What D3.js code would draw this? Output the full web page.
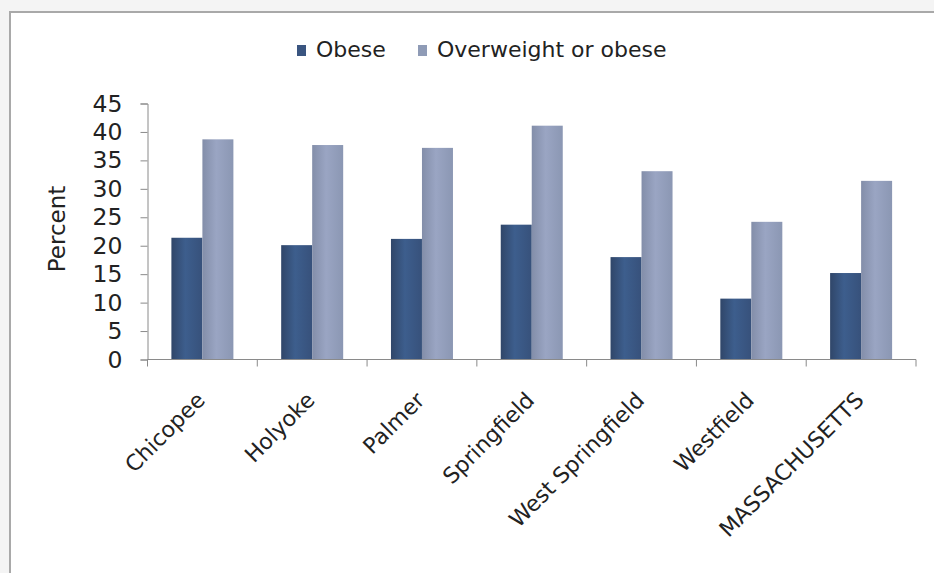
<!DOCTYPE html>
<html><head><meta charset="utf-8">
<script src="https://cdn.jsdelivr.net/npm/d3@7"></script>
<style>
html,body{margin:0;padding:0;background:#f4f4f4;}
svg{display:block;}
text{font-family:"DejaVu Sans",Verdana,sans-serif;fill:#222;}
</style></head>
<body>
<svg id="c" width="934" height="573"></svg>
<script>
const categories = ["Chicopee","Holyoke","Palmer","Springfield","West Springfield","Westfield","MASSACHUSETTS"];
const obese = [21.4, 20.1, 21.2, 23.7, 18.0, 10.7, 15.2];
const overweightOrObese = [38.7, 37.7, 37.2, 41.1, 33.1, 24.2, 31.4];
const seriesNames = ["Obese","Overweight or obese"];
const yTicks = [0,5,10,15,20,25,30,35,40,45];

(function(){
const svg = d3.select("#c");
svg.append("rect").attr("x",10).attr("y",12).attr("width",940).attr("height",580)
  .attr("fill","#fff").attr("stroke","#a9a9a9").attr("stroke-width",2);

const pL=147.5, pR=916, pT=103.5, pB=359.5;
const x = d3.scaleBand().domain(categories).range([pL,pR]).padding(0);
const y = d3.scaleLinear().domain([0,45]).range([pB,pT]);
const barW = 31;

const defs = svg.append("defs");
function grad(id, stops){
  const g = defs.append("linearGradient").attr("id",id).attr("x1","0").attr("x2","1").attr("y1","0").attr("y2","0");
  stops.forEach(s=>g.append("stop").attr("offset",s[0]).attr("stop-color",s[1]));
}
grad("gO",[[0,"#304669"],[0.45,"#3d5e8d"],[1,"#37517b"]]);
grad("gW",[[0,"#838ea9"],[0.45,"#9aa5c3"],[1,"#8b97b3"]]);

const series = [obese, overweightOrObese];
const fills = ["url(#gO)","url(#gW)"];
series.forEach((vals,si)=>{
  svg.append("g").selectAll("rect").data(categories).join("rect")
    .attr("x",d=>x(d)+x.bandwidth()/2 - barW + si*barW)
    .attr("y",(d,i)=>y(vals[i]))
    .attr("width",barW)
    .attr("height",(d,i)=>pB-y(vals[i]))
    .attr("fill",fills[si]);
});

const ya = svg.append("g").attr("transform",`translate(${pL},0)`)
  .call(d3.axisLeft(y).tickValues(yTicks).tickSize(7).tickPadding(18));
ya.select(".domain").attr("stroke","#8a8a8a");
ya.selectAll(".tick line").attr("stroke","#8a8a8a");
ya.selectAll(".tick text").attr("font-size",23.5).attr("font-family","DejaVu Sans, Verdana, sans-serif").attr("fill","#2a2a2a");

const xa = svg.append("g");
xa.append("line").attr("x1",pL).attr("x2",pR).attr("y1",pB).attr("y2",pB).attr("stroke","#8a8a8a");
const bounds = categories.map(c=>x(c)).concat([x(categories[categories.length-1])+x.step()]);
xa.selectAll("line.t").data(bounds).join("line").attr("class","t")
  .attr("x1",d=>d).attr("x2",d=>d).attr("y1",pB).attr("y2",pB+7).attr("stroke","#8a8a8a");
xa.selectAll("text").data(categories).join("text")
  .attr("transform",d=>`translate(${x(d)+x.bandwidth()/2+4},${pB+42}) rotate(-45)`)
  .attr("text-anchor","end").attr("font-size",22).text(d=>d);

svg.append("text").attr("transform",`translate(65,229) rotate(-90)`)
  .attr("text-anchor","middle").attr("font-size",23).text("Percent");

const leg = svg.append("g");
const legItems = [{n:seriesNames[0],c:"#3a5580",sx:297,tx:316},{n:seriesNames[1],c:"#8f9bb6",sx:418,tx:437}];
legItems.forEach(it=>{
  leg.append("rect").attr("x",it.sx).attr("y",45).attr("width",9).attr("height",11).attr("fill",it.c);
  leg.append("text").attr("x",it.tx).attr("y",57).attr("font-size",22).text(it.n);
});
})();
</script>
</body></html>
